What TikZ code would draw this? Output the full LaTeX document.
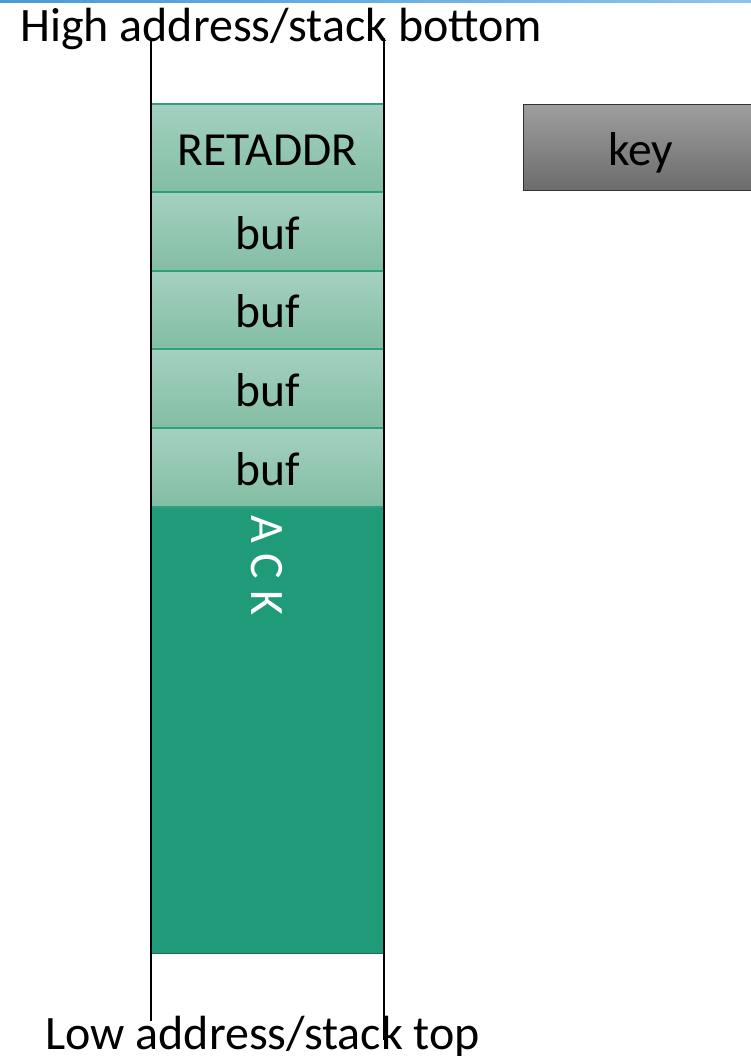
\documentclass[tikz,border=0pt]{standalone}
\usepackage{fontspec}
\setmainfont{Carlito}
\begin{document}
\begin{tikzpicture}[x=1pt,y=-1pt,
  txt/.style={font=\fontsize{47.5}{52}\selectfont, text height=45pt, text depth=9.5pt},
  cell/.style={draw=cellborder, line width=1.2pt, top color=celltop, bottom color=cellbot, minimum width=233pt, inner sep=0pt, outer sep=0pt, txt},
  rail/.style={draw=black, line width=1.8pt},
  lbl/.style={font=\fontsize{48}{52}\selectfont, inner sep=0pt}]
\definecolor{celltop}{HTML}{A4D1C0}
\definecolor{cellbot}{HTML}{83BDA4}
\definecolor{cellborder}{HTML}{2FA07B}
\definecolor{stackfill}{HTML}{1F9B79}
\definecolor{stackborder}{HTML}{1C6E56}
\useasboundingbox (0,0) rectangle (751,1056);
% top blue line
\shade[left color={rgb,255:red,74;green,154;blue,216}, right color={rgb,255:red,140;green,196;blue,236}] (0,0) rectangle (751,2.5);
% labels
\node[lbl, anchor=base west] (hi) at (20,42) {High address/stack bottom};
\node[lbl, anchor=base west] (lo) at (45,1049) {Low address/stack top};
% stack body
\node[draw=stackborder, line width=1.2pt, fill=stackfill, minimum width=233pt, minimum height=446pt, inner sep=0pt, anchor=north west] (stack) at (151,507) {};
\node[rotate=-90, anchor=west, inner sep=0pt, text=white, font=\fontsize{48}{52}\selectfont] (stacklbl) at (267,448) {S T A C K};
% cells
\node[cell, minimum height=88pt, anchor=north west] (ret) at (151,104) {RETADDR};
\node[cell, minimum height=79pt, anchor=north] (b1) at (ret.south) {buf};
\node[cell, minimum height=78pt, anchor=north] (b2) at (b1.south) {buf};
\node[cell, minimum height=79pt, anchor=north] (b3) at (b2.south) {buf};
\node[cell, minimum height=79pt, anchor=north] (b4) at (b3.south) {buf};
% rails
\coordinate (lt) at (151,38);
\coordinate (lb) at (151,1021);
\coordinate (rt) at (384,38);
\coordinate (rb) at (384,1040);
\draw[rail] (lt) -- (lb);
\draw[rail] (rt) -- (rb);
% key
\node[draw={rgb,255:red,50;green,50;blue,50}, line width=1.2pt, top color={rgb,255:red,158;green,158;blue,158}, bottom color={rgb,255:red,108;green,108;blue,108}, minimum width=234pt, minimum height=86pt, inner sep=0pt, anchor=north west, txt] (key) at (523,104) {key};
\end{tikzpicture}
\end{document}
